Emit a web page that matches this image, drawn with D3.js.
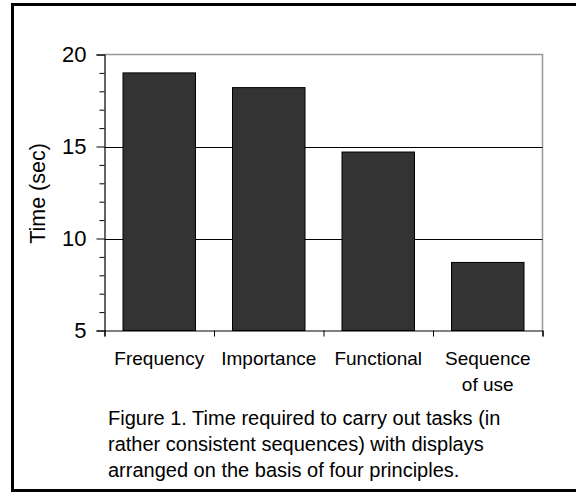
<!DOCTYPE html>
<html>
<head>
<meta charset="utf-8">
<script src="https://cdn.jsdelivr.net/npm/d3@7"></script>
<style>
  html, body { margin: 0; padding: 0; background: #fff; }
  svg { display: block; font-family: "Liberation Sans", Arial, sans-serif; }
</style>
</head>
<body>
<svg id="chart" width="576" height="492"></svg>
<script>
const categories = ["Frequency", "Importance", "Functional", "Sequence of use"];
const categoryLines = [["Frequency"], ["Importance"], ["Functional"], ["Sequence", "of use"]];
const times = [19.0, 18.2, 14.7, 8.7];
const yTicks = [5, 10, 15, 20];
const yMinorTicks = [6, 7, 8, 9, 11, 12, 13, 14, 16, 17, 18, 19];
const gridValues = [10, 15];
const yTitle = "Time (sec)";
const captionLines = [
  "Figure 1. Time required to carry out tasks (in",
  "rather consistent sequences) with displays",
  "arranged on the basis of four principles."
];

const svg = d3.select("#chart");

// outer frame
svg.append("rect")
  .attr("x", 12.5).attr("y", 4.5)
  .attr("width", 600).attr("height", 486)
  .attr("fill", "none").attr("stroke", "#000").attr("stroke-width", 3);

const plot = { left: 104.5, right: 542.5, top: 54.5, bottom: 330.5 };

const x = d3.scaleBand()
  .domain(categories)
  .range([plot.left, plot.right])
  .paddingInner(0.338)
  .paddingOuter(0.169);

const y = d3.scaleLinear().domain([5, 20]).range([plot.bottom, plot.top]);

// plot border top/right (gray)
svg.append("path")
  .attr("d", `M${plot.left},${plot.top}H${plot.right}V${plot.bottom}`)
  .attr("fill", "none").attr("stroke", "#999").attr("stroke-width", 1.5);

// gridlines
svg.append("g").selectAll("line").data(gridValues).join("line")
  .attr("x1", plot.left).attr("x2", plot.right)
  .attr("y1", d => Math.round(y(d)) + 0.5).attr("y2", d => Math.round(y(d)) + 0.5)
  .attr("stroke", "#000").attr("stroke-width", 1);

// bars
svg.append("g").selectAll("rect").data(times).join("rect")
  .attr("x", (d, i) => x(categories[i]))
  .attr("y", d => y(d))
  .attr("width", x.bandwidth())
  .attr("height", d => y(5) - y(d))
  .attr("fill", "#333333")
  .attr("stroke", "#000").attr("stroke-width", 1);

// y axis (major)
const yAxis = d3.axisLeft(y).tickValues(yTicks).tickSize(8).tickPadding(10).tickFormat(d3.format("d"));
const gy = svg.append("g").attr("transform", `translate(${plot.left},0)`).call(yAxis);
gy.select(".domain").attr("stroke", "#000").attr("stroke-width", 1.2);
gy.selectAll(".tick line").attr("stroke", "#000");
gy.selectAll(".tick text")
  .attr("font-size", 22).attr("fill", "#000")
  .attr("font-family", "Liberation Sans, Arial, sans-serif");

// y axis minor ticks
const yMinor = d3.axisLeft(y).tickValues(yMinorTicks).tickSize(5).tickFormat("");
const gym = svg.append("g").attr("transform", `translate(${plot.left},0)`).call(yMinor);
gym.select(".domain").remove();
gym.selectAll(".tick line").attr("stroke", "#000");

// x axis
const xEdges = d3.scaleLinear().domain([0, categories.length]).range([plot.left, plot.right]);
const gx = svg.append("g").attr("transform", `translate(0,${plot.bottom})`)
  .call(d3.axisBottom(xEdges).ticks(categories.length).tickSize(6).tickFormat(""));
gx.select(".domain").attr("stroke", "#000").attr("stroke-width", 1.2);
gx.selectAll(".tick line").attr("stroke", "#000");

// category labels
const labels = svg.append("g").selectAll("text").data(categoryLines).join("text")
  .attr("x", (d, i) => x(categories[i]) + x.bandwidth() / 2)
  .attr("y", 365)
  .attr("text-anchor", "middle")
  .attr("font-size", 19)
  .attr("fill", "#000");
labels.selectAll("tspan").data(d => d).join("tspan")
  .attr("x", function() { return d3.select(this.parentNode).attr("x"); })
  .attr("dy", (d, i) => i === 0 ? 0 : 26)
  .text(d => d);

// y title
svg.append("text")
  .attr("transform", "translate(44.5,193.5) rotate(-90)")
  .attr("text-anchor", "middle")
  .attr("font-size", 21.5)
  .attr("fill", "#000")
  .text(yTitle);

// caption
svg.append("g").selectAll("text").data(captionLines).join("text")
  .attr("x", 108)
  .attr("y", (d, i) => 425 + i * 26)
  .attr("font-size", 20)
  .attr("fill", "#000")
  .text(d => d);
</script>
</body>
</html>
